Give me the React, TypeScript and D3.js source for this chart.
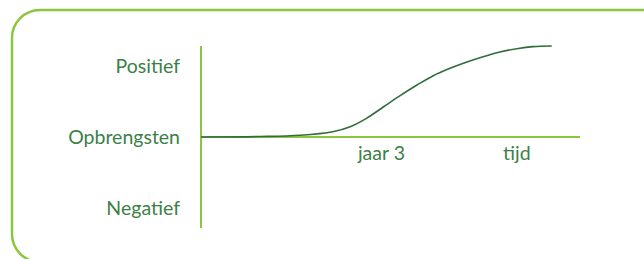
import React, { useEffect, useRef } from 'react';
import * as d3 from 'd3';

// revenue curve over time (years), y relative: -1 negative .. 1 positive
const years = [0, 0.98, 1.65, 2.19, 2.48, 2.75, 3.03, 3.31, 3.59, 3.86, 4.14, 4.42, 4.69, 4.97, 5.25, 5.52, 5.83];
const revenue = [0, 0.005, 0.019, 0.058, 0.113, 0.205, 0.33, 0.454, 0.571, 0.674, 0.755, 0.824, 0.882, 0.934, 0.97, 0.993, 1.0];

const yLabels = ['Positief', 'Opbrengsten', 'Negatief'];
const yLabelValues = [0.78, 0, -0.78];
const xLabels = ['jaar 3', 'tijd'];
const xLabelValues = [3, 5.25];

const width = 644;
const height = 259;

const App: React.FC = () => {
  const svgRef = useRef<SVGSVGElement>(null);

  useEffect(() => {
    if (!svgRef.current) return;
    const svg = d3.select(svgRef.current);
    svg.selectAll('*').remove();

    const light = '#8cc63f';
    const textColor = '#3c7f47';
    const curveColor = '#2f6d3b';
    const font = 'Lato, "Open Sans", sans-serif';

    // kader
    svg.append('rect')
      .attr('x', 12)
      .attr('y', 10)
      .attr('width', 700)
      .attr('height', 252)
      .attr('rx', 28)
      .attr('fill', 'none')
      .attr('stroke', light)
      .attr('stroke-width', 2.5);

    const xScale = d3.scaleLinear().domain([0, 6.3]).range([201, 580]);
    const yScale = d3.scaleLinear().domain([-1, 1]).range([228, 46]);

    // assen
    svg.append('line')
      .attr('x1', xScale(0)).attr('x2', xScale(0))
      .attr('y1', yScale(-1)).attr('y2', yScale(1))
      .attr('stroke', light).attr('stroke-width', 2);

    svg.append('line')
      .attr('x1', xScale(0)).attr('x2', xScale(6.3))
      .attr('y1', yScale(0)).attr('y2', yScale(0))
      .attr('stroke', light).attr('stroke-width', 2);

    // curve
    const line = d3.line<number>()
      .x((_, i) => xScale(years[i]))
      .y(d => yScale(d))
      .curve(d3.curveCatmullRom.alpha(0.5));

    svg.append('path')
      .datum(revenue)
      .attr('d', line)
      .attr('fill', 'none')
      .attr('stroke', curveColor)
      .attr('stroke-width', 1.6);

    // labels
    svg.selectAll('text.ylab')
      .data(yLabels)
      .enter()
      .append('text')
      .attr('class', 'ylab')
      .attr('x', 180)
      .attr('y', (_, i) => yScale(yLabelValues[i]))
      .attr('dy', '0.35em')
      .attr('text-anchor', 'end')
      .attr('font-family', font)
      .attr('font-size', 19.5)
      .attr('fill', textColor)
      .text(d => d);

    svg.selectAll('text.xlab')
      .data(xLabels)
      .enter()
      .append('text')
      .attr('class', 'xlab')
      .attr('x', (_, i) => xScale(xLabelValues[i]))
      .attr('y', yScale(0) + 23)
      .attr('text-anchor', 'middle')
      .attr('font-family', font)
      .attr('font-size', 19.5)
      .attr('fill', textColor)
      .text(d => d);
  }, []);

  return (
    <svg
      ref={svgRef}
      width={width}
      height={height}
      style={{ position: 'absolute', left: 0, top: 0, background: '#fff' }}
    />
  );
};

export default App;
